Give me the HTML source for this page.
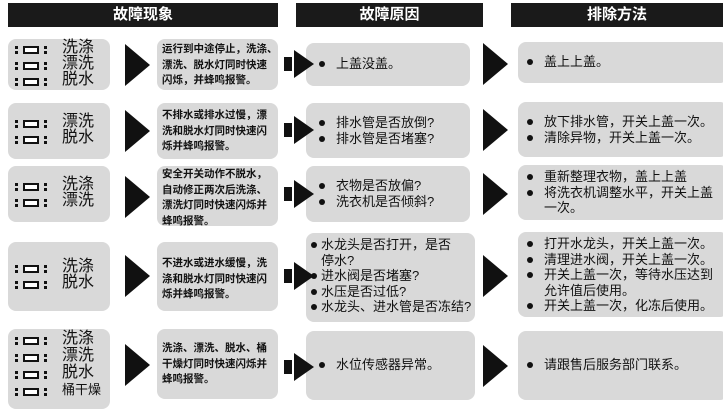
<!DOCTYPE html>
<html><head><meta charset="utf-8"><style>
body{margin:0;width:723px;height:401px;background:#fff;position:relative;overflow:hidden;font-family:"Liberation Sans","Noto Sans CJK SC",sans-serif;color:#111}
.hd{position:absolute;top:3px;height:24px;background:#1a1a1a;color:#fff;font-weight:bold;font-size:15px;line-height:24px;text-align:center}
.bx{position:absolute;background:#d9d9d9;border-radius:8px;box-sizing:border-box}
.tri{position:absolute;width:0;height:0;border-top:21px solid transparent;border-bottom:21px solid transparent;border-left:25px solid #111}
.lab{position:absolute;left:6px;font-size:16px;line-height:16px}
.ln{height:16px;white-space:nowrap;position:relative}
.ln i{position:absolute;top:5px;width:12px;height:4px;border:2px solid #111;background:#fff;left:9px}
.ln b.c1,.ln b.c2{position:absolute;top:3px;width:3px;height:10px}
.ln b.c1::before,.ln b.c1::after,.ln b.c2::before,.ln b.c2::after{content:"";position:absolute;left:0;width:3px;height:3px;background:#111}
.ln b::before{top:2px}.ln b::after{top:7px}
.c1{left:1px}.c2{left:30px}
.ln span{position:absolute;left:48px;top:-1px}
.mid{position:absolute;left:5px;font-size:10.5px;font-weight:bold;line-height:15.5px;white-space:nowrap}
.da{position:absolute;z-index:2}
.da .s{position:absolute;left:0;top:7px;width:8px;height:14px;background:#111}
.da .h{position:absolute;left:10px;top:0;width:0;height:0;border-top:14px solid transparent;border-bottom:14px solid transparent;border-left:20px solid #111}
.t{position:absolute;font-size:13px;line-height:15.5px;white-space:nowrap}
.t div{position:relative;padding-left:20px}
.t div::before{content:"";position:absolute;left:3px;top:5px;width:6px;height:6px;border-radius:50%;background:#111}
.t div.n::before{display:none}
.t2 div{padding-left:10px}
.t2 div::before{left:0}
</style></head><body>
<div class="hd" style="left:8px;width:270px">故障现象</div>
<div class="hd" style="left:296px;width:187px">故障原因</div>
<div class="hd" style="left:511px;width:212px">排除方法</div>

<!-- Row1 -->
<div class="bx" style="left:8px;top:39px;width:102px;height:51px"><div class="lab" style="top:2px">
<div class="ln"><b class="c1"></b><i></i><b class="c2"></b><span>洗涤</span></div>
<div class="ln"><b class="c1"></b><i></i><b class="c2"></b><span>漂洗</span></div>
<div class="ln"><b class="c1"></b><i></i><b class="c2"></b><span>脱水</span></div></div></div>
<div class="tri" style="left:125px;top:44px"></div>
<div class="bx" style="left:157px;top:39px;width:121px;height:51px"><div class="mid" style="top:3px">运行到中途停止，洗涤、<br>漂洗、脱水灯同时快速<br>闪烁，并蜂鸣报警。</div></div>
<div class="da" style="left:284px;top:50px"><div class="s"></div><div class="h"></div></div>
<div class="bx" style="left:306px;top:43px;width:164px;height:43px"><div class="t" style="left:10px;top:13px"><div>上盖没盖。</div></div></div>
<div class="tri" style="left:483px;top:43px"></div>
<div class="bx" style="left:518px;top:42px;width:210px;height:41px"><div class="t" style="left:6px;top:12px"><div>盖上上盖。</div></div></div>

<!-- Row2 -->
<div class="bx" style="left:8px;top:103px;width:102px;height:56px"><div class="lab" style="top:12px">
<div class="ln"><b class="c1"></b><i></i><b class="c2"></b><span>漂洗</span></div>
<div class="ln"><b class="c1"></b><i></i><b class="c2"></b><span>脱水</span></div></div></div>
<div class="tri" style="left:125px;top:110px"></div>
<div class="bx" style="left:157px;top:103px;width:121px;height:56px"><div class="mid" style="top:5px">不排水或排水过慢，漂<br>洗和脱水灯同时快速闪<br>烁并蜂鸣报警。</div></div>
<div class="da" style="left:284px;top:116px"><div class="s"></div><div class="h"></div></div>
<div class="bx" style="left:306px;top:103px;width:164px;height:55px"><div class="t" style="left:10px;top:12px"><div>排水管是否放倒?</div><div>排水管是否堵塞?</div></div></div>
<div class="tri" style="left:483px;top:109px"></div>
<div class="bx" style="left:518px;top:102px;width:210px;height:55px"><div class="t" style="left:6px;top:12px"><div>放下排水管，开关上盖一次。</div><div>清除异物，开关上盖一次。</div></div></div>

<!-- Row3 -->
<div class="bx" style="left:8px;top:166px;width:102px;height:56px"><div class="lab" style="top:12px">
<div class="ln"><b class="c1"></b><i></i><b class="c2"></b><span>洗涤</span></div>
<div class="ln"><b class="c1"></b><i></i><b class="c2"></b><span>漂洗</span></div></div></div>
<div class="tri" style="left:125px;top:176px"></div>
<div class="bx" style="left:157px;top:166px;width:121px;height:60px"><div class="mid" style="top:1px">安全开关动作不脱水，<br>自动修正两次后洗涤、<br>漂洗灯同时快速闪烁并<br>蜂鸣报警。</div></div>
<div class="da" style="left:284px;top:180px"><div class="s"></div><div class="h"></div></div>
<div class="bx" style="left:306px;top:166px;width:164px;height:56px"><div class="t" style="left:10px;top:12px"><div>衣物是否放偏?</div><div>洗衣机是否倾斜?</div></div></div>
<div class="tri" style="left:483px;top:173px"></div>
<div class="bx" style="left:518px;top:165px;width:210px;height:55px"><div class="t" style="left:6px;top:4px"><div>重新整理衣物，盖上上盖</div><div>将洗衣机调整水平，开关上盖</div><div class="n">一次。</div></div></div>

<!-- Row4 -->
<div class="bx" style="left:8px;top:242px;width:102px;height:69px"><div class="lab" style="top:18px">
<div class="ln"><b class="c1"></b><i></i><b class="c2"></b><span>洗涤</span></div>
<div class="ln"><b class="c1"></b><i></i><b class="c2"></b><span>脱水</span></div></div></div>
<div class="tri" style="left:125px;top:255px"></div>
<div class="bx" style="left:157px;top:242px;width:121px;height:69px"><div class="mid" style="top:14px">不进水或进水缓慢，洗<br>涤和脱水灯同时快速闪<br>烁并蜂鸣报警。</div></div>
<div class="da" style="left:284px;top:262px"><div class="s"></div><div class="h"></div></div>
<div class="bx" style="left:306px;top:233px;width:169px;height:89px"><div class="t t2" style="left:5px;top:4px"><div>水龙头是否打开，是否</div><div class="n">停水?</div><div>进水阀是否堵塞?</div><div>水压是否过低?</div><div>水龙头、进水管是否冻结?</div></div></div>
<div class="tri" style="left:483px;top:255px"></div>
<div class="bx" style="left:518px;top:232px;width:210px;height:85px"><div class="t" style="left:6px;top:4px"><div>打开水龙头，开关上盖一次。</div><div>清理进水阀，开关上盖一次。</div><div>开关上盖一次，等待水压达到</div><div class="n">允许值后使用。</div><div>开关上盖一次，化冻后使用。</div></div></div>

<!-- Row5 -->
<div class="bx" style="left:8px;top:329px;width:102px;height:80px"><div class="lab" style="top:3px">
<div class="ln" style="height:17px"><b class="c1"></b><i></i><b class="c2"></b><span>洗涤</span></div>
<div class="ln" style="height:17px"><b class="c1"></b><i></i><b class="c2"></b><span>漂洗</span></div>
<div class="ln" style="height:17px"><b class="c1"></b><i></i><b class="c2"></b><span>脱水</span></div>
<div class="ln" style="height:17px"><b class="c1"></b><i></i><b class="c2"></b><span style="font-size:13px">桶干燥</span></div></div></div>
<div class="tri" style="left:125px;top:344px"></div>
<div class="bx" style="left:157px;top:329px;width:121px;height:70px"><div class="mid" style="top:12px">洗涤、漂洗、脱水、桶<br>干燥灯同时快速闪烁并<br>蜂鸣报警。</div></div>
<div class="da" style="left:284px;top:353px"><div class="s"></div><div class="h"></div></div>
<div class="bx" style="left:306px;top:331px;width:169px;height:69px"><div class="t" style="left:10px;top:26px"><div>水位传感器异常。</div></div></div>
<div class="tri" style="left:483px;top:345px"></div>
<div class="bx" style="left:518px;top:331px;width:210px;height:69px"><div class="t" style="left:6px;top:26px"><div>请跟售后服务部门联系。</div></div></div>
</body></html>
